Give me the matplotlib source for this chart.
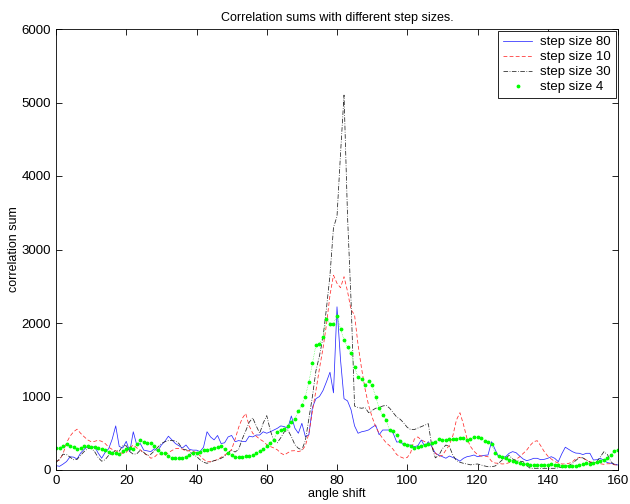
import numpy as np
import matplotlib
matplotlib.use('Agg')
import matplotlib.pyplot as plt

plt.rcParams['font.family'] = ['Liberation Sans', 'DejaVu Sans']

# angle shift (one sample per degree)
angle = np.arange(0, 161)

# step size 80 (blue, solid)
step80 = [60, 50, 80, 115, 180, 175, 150, 230, 280, 320,
          295, 320, 230, 160, 240, 290, 420, 600, 320, 300,
          390, 250, 520, 340, 360, 270, 260, 250, 290, 260,
          340, 390, 460, 410, 360, 330, 300, 340, 280, 270,
          270, 250, 310, 520, 450, 410, 470, 360, 370, 450,
          470, 385, 400, 390, 385, 460, 450, 476, 476, 520,
          500, 520, 544, 567, 600, 590, 570, 735, 570, 500,
          635, 453, 480, 850, 970, 1000, 1080, 1200, 1330, 1050,
          2220, 1500, 970, 940, 820, 600, 500, 520, 530, 545,
          580, 612, 480, 544, 544, 544, 500, 380, 385, 340,
          340, 340, 317, 330, 408, 320, 385, 317, 227, 204,
          181, 160, 190, 170, 150, 120, 159, 181, 190, 204,
          181, 190, 200, 204, 385, 280, 181, 172, 181, 227,
          250, 235, 190, 150, 127, 140, 159, 159, 140, 145,
          159, 181, 159, 113, 220, 310, 280, 250, 230, 227,
          210, 227, 227, 136, 140, 159, 130, 100, 91, 80,
          68]

# step size 10 (red, dashed)
step10 = [120, 136, 220, 370, 460, 520, 555, 500, 453, 410,
          385, 390, 405, 390, 360, 310, 280, 260, 235, 227,
          240, 300, 340, 300, 275, 227, 204, 160, 175, 220,
          215, 195, 235, 265, 290, 295, 285, 255, 265, 255,
          235, 195, 145, 113, 113, 125, 145, 172, 204, 235,
          280, 420, 580, 700, 770, 600, 500, 460, 420, 390,
          345, 320, 300, 275, 230, 204, 235, 260, 263, 250,
          265, 330, 500, 800, 1080, 1380, 1650, 1980, 2380, 2650,
          2540, 2480, 2630, 2430, 2180, 2110, 1700, 1380, 1100, 880,
          720, 590, 500, 430, 370, 330, 280, 210, 180, 160,
          170, 240, 420, 450, 410, 385, 365, 320, 230, 185,
          200, 270, 340, 470, 680, 780, 620, 430, 320, 255,
          210, 190, 190, 180, 120, 95, 91, 82, 85, 100,
          125, 145, 180, 225, 270, 335, 385, 399, 330, 250,
          190, 150, 115, 95, 82, 82, 90, 110, 155, 170,
          160, 136, 113, 100, 100, 85, 77, 85, 85, 70,
          68]

# step size 30 (black, dash-dot)
step30 = [100, 150, 215, 210, 175, 140, 145, 200, 250, 290,
          300, 250, 170, 120, 140, 200, 227, 270, 255, 330,
          330, 250, 215, 220, 270, 240, 195, 215, 260, 310,
          360, 385, 400, 400, 395, 360, 285, 275, 255, 210,
          185, 140, 105, 91, 110, 127, 136, 159, 185, 235,
          265, 245, 280, 420, 530, 650, 710, 600, 500, 640,
          740, 540, 400, 370, 440, 520, 544, 455, 345, 295,
          275, 400, 700, 1000, 1350, 1550, 1800, 2200, 2650, 3300,
          3450, 4300, 5100, 3450, 2300, 870, 850, 840, 850, 780,
          810, 840, 850, 870, 880, 840, 780, 720, 690, 640,
          580, 550, 550, 570, 590, 610, 630, 320, 165, 200,
          290, 340, 320, 200, 130, 105, 91, 82, 70, 77,
          82, 68, 55, 45, 45, 54, 90, 136, 159, 200,
          150, 127, 120, 113, 60, 23, 23, 23, 23, 23,
          23, 23, 23, 30, 40, 45, 60, 90, 130, 170,
          165, 136, 105, 91, 113, 180, 249, 210, 113, 70,
          68]

# step size 4 (green, dots)
step4 = [300, 300, 330, 355, 330, 308, 285, 300, 320, 326,
         310, 315, 298, 285, 275, 240, 227, 225, 215, 260,
         290, 295, 290, 350, 405, 380, 370, 362, 330, 270,
         230, 227, 190, 165, 159, 160, 170, 180, 210, 236,
         236, 245, 268, 278, 288, 298, 308, 320, 280, 230,
         200, 175, 172, 178, 185, 192, 205, 230, 260, 290,
         320, 370, 410, 520, 550, 560, 600, 650, 690, 800,
         885, 1000, 1200, 1450, 1700, 1714, 1810, 2060, 1990, 1990,
         2100, 1920, 1770, 1670, 1590, 1400, 1260, 1240, 1160, 1210,
         1150, 1000, 840, 750, 680, 540, 535, 470, 400, 360,
         340, 330, 300, 310, 330, 345, 360, 372, 385, 420,
         410, 408, 415, 417, 425, 431, 431, 410, 420, 453,
         444, 431, 400, 385, 354, 227, 190, 172, 159, 136,
         127, 105, 95, 85, 78, 70, 68, 68, 68, 68,
         70, 80, 68, 65, 55, 55, 60, 60, 60, 68,
         75, 95, 85, 92, 110, 125, 140, 160, 205, 265,
         275]

xticks = np.arange(0, 161, 20)
yticks = np.arange(0, 6001, 1000)

fig = plt.figure(figsize=(6.3, 5.04), dpi=100)
ax = fig.add_axes([56/630, 34/504, 562/630, 441/504])

ax.plot(angle, step80, color='#2b2bff', lw=0.55, label='step size 80')
ax.plot(angle, step10, color='#ff2b2b', lw=0.55, ls=(0, (5, 3)), label='step size 10')
ax.plot(angle, step30, color='#222222', lw=0.55, ls=(0, (6, 2, 1, 2)), label='step size 30')
ax.plot(angle, step4, color='#00ff00', lw=0.4, ls=(0, (1, 2)))
ax.plot(angle, step4, color='#00ff00', ls='none', marker='.', ms=3.5, label='step size 4')

ax.set_xlim(0, 160)
ax.set_ylim(0, 6000)
ax.set_xticks(xticks)
ax.set_yticks(yticks)
ax.tick_params(direction='in', top=True, right=True, length=4, width=0.6, labelsize=9.5)
for s in ax.spines.values():
    s.set_linewidth(0.6)

ax.set_title('Correlation sums with different step sizes.', fontsize=9, pad=6)
ax.set_xlabel('angle shift', fontsize=9, labelpad=1)
ax.set_ylabel('correlation sum', fontsize=9, labelpad=1)

leg = ax.legend(loc='upper right', fontsize=9.5, fancybox=False, framealpha=1,
                edgecolor='black', borderaxespad=0.15, handlelength=2.2,
                handletextpad=0.6, labelspacing=0.2, borderpad=0.4)
leg.get_frame().set_linewidth(0.6)

fig.savefig('out.png', dpi=100)
